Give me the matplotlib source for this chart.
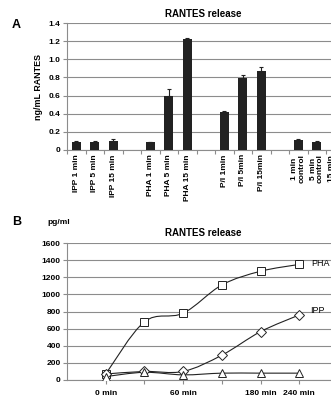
import matplotlib.pyplot as plt
import numpy as np
from matplotlib.path import Path
from matplotlib.patches import PathPatch
from matplotlib.ticker import FuncFormatter

plt.rcParams['font.family'] = ['Liberation Sans', 'DejaVu Sans']
plt.rcParams['font.weight'] = 'bold'

# panel A data
bar_labels = ['IPP 1 min', 'IPP 5 min', 'IPP 15 min', '',
              'PHA 1 min', 'PHA 5 min', 'PHA 15 min', '',
              'P/I 1min', 'P/I 5min', 'P/I 15min', '',
              '1 min\ncontrol', '5 min\ncontrol', '15 min\ncontrol']
bar_values = [0.09, 0.09, 0.10, np.nan,
              0.085, 0.60, 1.22, np.nan,
              0.42, 0.79, 0.87, np.nan,
              0.11, 0.09, 0.09]
bar_errors = [0.01, 0.01, 0.02, 0,
              0.005, 0.07, 0.02, 0,
              0.015, 0.04, 0.04, 0,
              0.01, 0.005, 0.005]

# panel B data
time_labels = ['0 min', '', '60 min', '', '180 min', '240 min']
pha = [70, 680, 780, 1110, 1270, 1350]
ipp = [70, 100, 100, 290, 565, 760]
ctrl = [40, 90, 60, 80, 80, 80]

grid_col = '#8c8c8c'
fs = 6


def smooth_path(xs, ys, t=1/6):
    # Catmull-Rom style cubic bezier through the points (like Excel smoothed line)
    pts = np.column_stack([xs, ys]).astype(float)
    verts = [pts[0]]
    codes = [Path.MOVETO]
    n = len(pts)
    for i in range(n - 1):
        p0 = pts[i - 1] if i > 0 else pts[i]
        p1 = pts[i]
        p2 = pts[i + 1]
        p3 = pts[i + 2] if i + 2 < n else pts[i + 1]
        c1 = p1 + (p2 - p0) * t
        c2 = p2 - (p3 - p1) * t
        verts += [c1, c2, p2]
        codes += [Path.CURVE4] * 3
    return Path(verts, codes)


fig = plt.figure(figsize=(3.31, 4.01), dpi=100)

# ---- panel A ----
axA = fig.add_axes([67 / 331, 1 - 150 / 401, 296 / 331, 127 / 401])
xA = np.arange(len(bar_labels))
axA.bar(xA, bar_values, width=0.5, color='#222222', zorder=3)
axA.errorbar(xA, bar_values, yerr=[np.zeros(len(xA)), bar_errors], fmt='none',
             ecolor='#222222', elinewidth=0.8, capsize=1.5, capthick=0.8, zorder=4)
axA.set_xlim(-0.5, len(bar_labels) + 0.5)
axA.set_ylim(0, 1.4)
axA.set_yticks(np.arange(0, 1.41, 0.2))
axA.yaxis.set_major_formatter(FuncFormatter(lambda v, p: '0' if v == 0 else f'{v:.1f}'))
axA.set_xticks(xA)
axA.set_xticklabels(bar_labels, rotation=90, fontsize=fs, fontweight='bold', linespacing=0.95)
axA.set_xticks(np.arange(-0.5, len(bar_labels) + 1, 1), minor=True)
axA.tick_params(axis='x', which='major', length=0, pad=3)
axA.tick_params(axis='x', which='minor', length=3, color=grid_col, width=0.8)
axA.tick_params(axis='y', length=3, color=grid_col, width=0.8, labelsize=fs, pad=1.5)
axA.grid(axis='y', color=grid_col, lw=0.8, zorder=0)
for s in ['top', 'right']:
    axA.spines[s].set_visible(False)
for s in ['left', 'bottom']:
    axA.spines[s].set_color(grid_col)
    axA.spines[s].set_linewidth(0.8)
axA.set_ylabel('ng/mL RANTES', fontsize=6.4, fontweight='bold', labelpad=4)
fig.text(203 / 331, 1 - 14 / 401, 'RANTES release', ha='center', va='center',
         fontsize=7, fontweight='bold')
fig.text(12 / 331, 1 - 25 / 401, 'A', ha='left', va='center', fontsize=9, fontweight='bold')

# ---- panel B ----
axB = fig.add_axes([67 / 331, 1 - 380 / 401, 271 / 331, 137 / 401])
xB = np.arange(len(time_labels))
for ys, mk in [(pha, 's'), (ipp, 'D'), (ctrl, '^')]:
    axB.add_patch(PathPatch(smooth_path(xB, ys), fill=False, edgecolor='#222222',
                            lw=0.8, zorder=3))
    axB.plot(xB, ys, ls='none', marker=mk, ms=5.8 if mk != 'D' else 4.8,
             mfc='white', mec='#222222', mew=0.7, zorder=4)
axB.set_xlim(-1, 6)
axB.set_ylim(0, 1600)
axB.set_yticks(np.arange(0, 1601, 200))
axB.set_xticks(xB)
axB.set_xticklabels(time_labels, fontsize=fs, fontweight='bold')
axB.tick_params(axis='x', length=3, color=grid_col, width=0.8, pad=4)
axB.tick_params(axis='y', length=3, color=grid_col, width=0.8, labelsize=fs, pad=1.5)
axB.grid(axis='y', color=grid_col, lw=0.8, zorder=0)
for s in ['top', 'right']:
    axB.spines[s].set_visible(False)
for s in ['left', 'bottom']:
    axB.spines[s].set_color(grid_col)
    axB.spines[s].set_linewidth(0.8)
axB.text(5.3, 1360, 'PHA', fontsize=6.5, fontweight='normal', va='center', ha='left')
axB.text(5.27, 815, 'IPP', fontsize=6.5, fontweight='normal', va='center', ha='left')
fig.text(203 / 331, 1 - 233 / 401, 'RANTES release', ha='center', va='center',
         fontsize=7, fontweight='bold')
fig.text(12 / 331, 1 - 222 / 401, 'B', ha='left', va='center', fontsize=9, fontweight='bold')
fig.text(47 / 331, 1 - 222 / 401, 'pg/ml', ha='left', va='center', fontsize=6, fontweight='bold')

fig.savefig('out.png', dpi=100)
